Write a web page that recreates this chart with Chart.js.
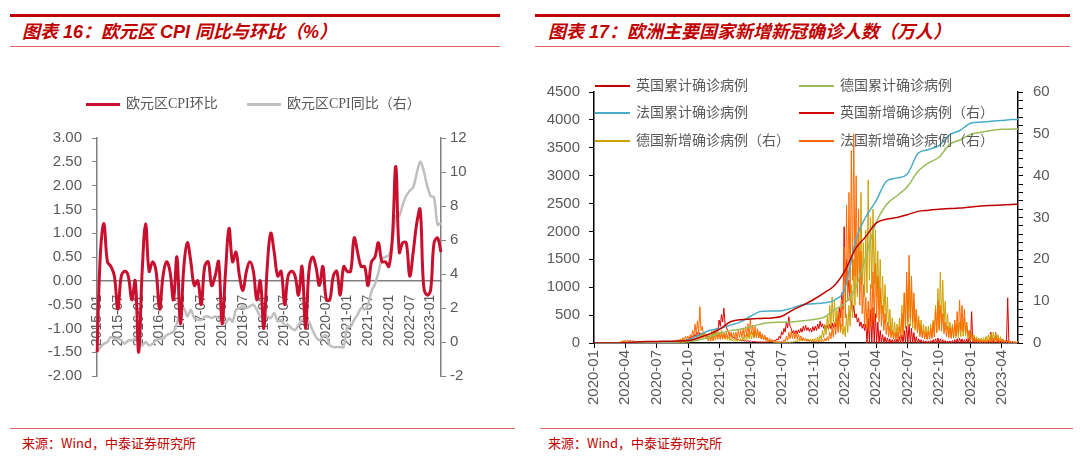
<!DOCTYPE html>
<html>
<head>
<meta charset="utf-8">
<script src="https://cdn.jsdelivr.net/npm/chart.js@4.4.0/dist/chart.umd.min.js"></script>
<style>
body{margin:0;width:1080px;height:465px;background:#fff;position:relative;overflow:hidden;font-family:"Noto Sans CJK SC",sans-serif}
.topline{position:absolute;top:14px;height:3px;background:#C00000}
.subline{position:absolute;top:46px;height:1px;background:#E06666}
.title{position:absolute;top:19px;font-size:18px;font-weight:bold;font-style:italic;color:#C00000;white-space:nowrap;font-family:"Liberation Sans","Noto Sans CJK SC",sans-serif;line-height:26px}
.botline{position:absolute;top:428px;height:1px;background:#E06666}
.src{position:absolute;top:434px;font-size:13px;color:#C00000;white-space:nowrap;font-family:"Liberation Sans Narrow","Noto Sans CJK SC",sans-serif;line-height:18px}
canvas{position:absolute}
.leg{position:absolute;font-size:14px;color:#595959;white-space:nowrap;font-family:"Liberation Serif","Noto Sans CJK SC",serif;line-height:18px}
.sw{position:absolute;height:3px}
</style>
</head>
<body>
<div class="topline" style="left:10px;width:490px"></div>
<div class="subline" style="left:10px;width:490px"></div>
<div class="title" style="left:22px">图表 16：欧元区 CPI 同比与环比（%）</div>
<div class="topline" style="left:535px;width:535px"></div>
<div class="subline" style="left:535px;width:535px"></div>
<div class="title" style="left:548px">图表 17：欧洲主要国家新增新冠确诊人数（万人）</div>

<canvas id="c1" width="510" height="360" style="left:0;top:60px"></canvas>
<canvas id="c2" width="555" height="360" style="left:520px;top:60px"></canvas>
<div id="legends"></div>

<div class="botline" style="left:10px;width:505px"></div>
<div class="botline" style="left:540px;width:533px"></div>
<div class="src" style="left:22px">来源：Wind，中泰证券研究所</div>
<div class="src" style="left:548px">来源：Wind，中泰证券研究所</div>

<script>
// ---- 图表16: 欧元区 CPI (2015-01 .. 2023-04, monthly) ----
var cpiStart = [2015, 1];
var cpiMom = [
  -1.5, 0.6, 1.2, 0.4, 0.3, 0.1, -0.6, 0.1, 0.2, 0.1, -0.4, 0.0,
  -1.5, 0.2, 1.2, 0.2, 0.4, 0.2, -0.6, 0.1, 0.4, 0.2, -0.4, 0.5,
  -0.9, 0.3, 0.8, 0.4, -0.1, 0.0, -0.5, 0.3, 0.4, -0.1, 0.1, 0.4,
  -0.9, 0.2, 1.1, 0.4, 0.6, 0.1, -0.2, 0.2, 0.4, 0.2, -0.4, 0.0,
  -1.0, 0.3, 1.0, 0.6, 0.1, 0.2, -0.5, 0.1, 0.2, 0.1, -0.3, 0.3,
  -1.0, 0.2, 0.5, 0.3, -0.1, 0.3, -0.4, -0.4, 0.1, 0.2, -0.3, 0.3,
  0.2, 0.2, 0.9, 0.6, 0.3, 0.3, -0.1, 0.4, 0.5, 0.8, 0.4, 0.4,
  0.3, 0.9, 2.4, 0.6, 0.8, 0.8, 0.1, 0.6, 1.2, 1.5, -0.1, -0.3,
  -0.2, 0.8, 0.9, 0.6
];
var cpiYoy = [
  -0.6, -0.3, -0.1, 0.0, 0.3, 0.2, 0.2, 0.1, -0.1, 0.1, 0.1, 0.2,
  0.3, -0.2, 0.0, -0.2, -0.1, 0.1, 0.2, 0.2, 0.4, 0.5, 0.6, 1.1,
  1.7, 2.0, 1.5, 1.9, 1.4, 1.3, 1.3, 1.5, 1.5, 1.4, 1.5, 1.4,
  1.3, 1.1, 1.4, 1.2, 1.9, 2.0, 2.1, 2.0, 2.1, 2.2, 1.9, 1.5,
  1.4, 1.5, 1.4, 1.7, 1.2, 1.3, 1.0, 1.0, 0.8, 0.7, 1.0, 1.3,
  1.4, 1.2, 0.7, 0.3, 0.1, 0.3, 0.4, -0.2, -0.3, -0.3, -0.3, -0.3,
  0.9, 0.9, 1.3, 1.6, 2.0, 1.9, 2.2, 3.0, 3.4, 4.1, 4.9, 5.0,
  5.1, 5.9, 7.4, 7.4, 8.1, 8.6, 8.9, 9.1, 9.9, 10.6, 10.1, 9.2,
  8.6, 8.5, 6.9, 7.0
];
var cpiLabels = [];
for (var k = 0; k < cpiMom.length; k++) {
  var mm = cpiStart[1] - 1 + k;
  var yy = cpiStart[0] + Math.floor(mm / 12);
  cpiLabels.push(yy + '-' + String(mm % 12 + 1).padStart(2, '0'));
}

// ---- 图表17: 新冠确诊 (万人) ----
// cumulative cases, first day of each month 2020-01 .. 2023-05, then last day
var cumLast = '2023-05-19';
var ukCum = [
  0, 0, 0, 3, 17, 26, 29, 31, 34, 45, 95, 160,
  250, 380, 415, 430, 440, 450, 480, 590, 680, 780, 900, 1030,
  1300, 1700, 1900, 2150, 2220, 2250, 2300, 2360, 2380, 2400, 2410, 2420,
  2440, 2455, 2465, 2475, 2485, 2490
];
var deCum = [
  0, 0, 0, 7, 16, 18, 19.5, 21, 24.5, 29.5, 53, 107,
  176, 222, 245, 287, 342, 369, 373, 377, 398, 423, 462, 601,
  715, 1000, 1520, 2160, 2480, 2640, 2800, 3080, 3230, 3330, 3560, 3640,
  3740, 3780, 3810, 3830, 3835, 3838
];
var frCum = [
  0, 0, 0, 5, 13, 15, 17, 19, 29, 60, 140, 223,
  262, 320, 375, 480, 567, 575, 580, 630, 690, 705, 722, 770,
  990, 1850, 2250, 2550, 2900, 2960, 3030, 3400, 3470, 3540, 3730, 3810,
  3940, 3960, 3975, 3990, 4005, 4010
];

// daily new cases read as weekly high / weekly low, weeks from 2020-01-29
var newStart = '2020-01-29';
var ukHi = [
  0, 0, 0, 0, 0, 0, 0.03, 0.1, 0.35, 0.55, 0.6, 0.55, 0.5,
  0.45, 0.35, 0.3, 0.22, 0.18, 0.14, 0.12, 0.09, 0.08, 0.07, 0.07, 0.08, 0.08,
  0.09, 0.1, 0.11, 0.13, 0.16, 0.25, 0.35, 0.45, 0.65, 0.8, 1.4, 1.7, 2.0,
  2.5, 2.5, 2.4, 2.0, 1.6, 1.7, 2.0, 2.7, 3.6, 5.5, 6.8, 8.3, 4.0,
  2.6, 2.0, 1.4, 1.2, 0.9, 0.7, 0.65, 0.6, 0.55, 0.5, 0.4, 0.35, 0.3,
  0.28, 0.25, 0.25, 0.3, 0.35, 0.5, 0.7, 1.0, 1.6, 2.7, 3.5, 5.0, 6.3,
  3.5, 3.0, 3.0, 3.2, 3.5, 4.0, 4.2, 3.7, 3.5, 3.9, 4.0, 4.5, 5.2,
  4.6, 4.2, 4.2, 4.5, 4.8, 5.0, 6.0, 8.5, 12, 27.8, 20, 15, 10,
  9, 7, 6, 5, 4.5, 4.5, 6, 8, 8.5, 7, 5, 3, 2, 1.5,
  1.2, 1.0, 0.8, 0.8, 1.0, 1.5, 2.0, 3.0, 4.0, 4.5, 3.5, 2.5, 1.5,
  1.0, 0.8, 0.6, 0.5, 0.5, 0.6, 0.8, 1.0, 1.2, 1.0, 0.8, 0.6, 0.5,
  0.5, 0.6, 0.8, 1.0, 1.2, 1.0, 0.8, 1.0, 1.5, 7.5, 1.2, 0.8, 0.6,
  0.6, 0.5, 0.5, 0.6, 2.6, 0.7, 2.5, 0.6, 0.5, 0.4, 0.3, 10.8, 0.3,
  0.2, 0.2, 0.1
];
var ukLo = [
  0, 0, 0, 0, 0, 0, 0.01, 0.05, 0.2, 0.35, 0.4, 0.35, 0.3,
  0.3, 0.25, 0.2, 0.15, 0.12, 0.1, 0.08, 0.06, 0.05, 0.05, 0.05, 0.06, 0.06,
  0.07, 0.08, 0.08, 0.1, 0.12, 0.18, 0.25, 0.3, 0.45, 0.6, 1.0, 1.3, 1.5,
  1.8, 1.8, 1.8, 1.5, 1.2, 1.3, 1.5, 2.0, 2.8, 4.0, 5.0, 4.5, 3.0,
  1.8, 1.4, 1.0, 0.8, 0.6, 0.5, 0.45, 0.4, 0.4, 0.25, 0.25, 0.2, 0.2,
  0.18, 0.18, 0.18, 0.2, 0.25, 0.35, 0.5, 0.7, 1.1, 2.0, 2.6, 3.6, 4.0,
  2.4, 2.2, 2.2, 2.4, 2.6, 3.0, 3.0, 2.8, 2.6, 2.9, 3.0, 3.4, 3.8,
  3.5, 3.2, 3.2, 3.4, 3.6, 3.8, 4.5, 6.0, 8.0, 12, 12, 10, 7,
  6, 5, 4, 3.5, 3, 0, 0, 0, 0, 0, 0, 0, 0, 0,
  0, 0, 0, 0, 0, 0, 0, 0, 0, 0, 0, 0, 0,
  0, 0, 0, 0, 0, 0, 0, 0, 0, 0, 0, 0, 0,
  0, 0, 0, 0, 0, 0, 0, 0, 0, 0, 0, 0, 0,
  0, 0, 0, 0, 0, 0, 0, 0, 0, 0, 0, 0, 0,
  0, 0, 0
];
var deHi = [
  0, 0, 0, 0, 0, 0.01, 0.1, 0.4, 0.6, 0.65, 0.5, 0.35, 0.25,
  0.15, 0.12, 0.08, 0.07, 0.05, 0.05, 0.06, 0.05, 0.05, 0.05, 0.05, 0.06, 0.08,
  0.1, 0.12, 0.15, 0.16, 0.15, 0.15, 0.15, 0.2, 0.22, 0.28, 0.45, 0.75, 1.2,
  1.9, 2.2, 2.4, 2.3, 2.2, 2.3, 2.9, 3.2, 3.3, 2.5, 3.1, 2.2, 1.7,
  1.4, 1.1, 0.9, 0.9, 1.0, 1.1, 1.4, 1.8, 2.3, 2.5, 2.6, 2.9, 2.7,
  2.4, 1.9, 1.5, 1.0, 0.6, 0.4, 0.2, 0.12, 0.09, 0.08, 0.1, 0.16, 0.25,
  0.3, 0.45, 0.6, 0.9, 1.0, 1.2, 1.1, 1.0, 0.9, 1.0, 1.1, 1.4, 1.8,
  3.0, 4.5, 6.5, 9.0, 11, 10, 8, 6, 4.5, 4, 7, 9, 14,
  20, 25, 28, 36, 24, 27, 39, 30, 32, 27, 22, 20, 16, 14,
  11, 8, 6, 5, 4.5, 6, 9, 12, 14, 15, 13, 10, 8,
  6.5, 5.5, 4.5, 4, 4, 4.5, 5.5, 9, 13, 17, 15, 10, 7,
  5, 4.5, 4.5, 4.5, 5, 5.5, 6, 4, 3, 2.5, 2, 1.5, 1.2,
  1.2, 1.3, 1.6, 2.0, 2.2, 2.6, 2.3, 2.0, 1.5, 1.0, 0.6, 0.5, 0.4,
  0.3, 0.3, 0.2
];
var deLo = [
  0, 0, 0, 0, 0, 0, 0.05, 0.2, 0.3, 0.3, 0.25, 0.15, 0.1,
  0.07, 0.05, 0.04, 0.03, 0.02, 0.02, 0.03, 0.02, 0.02, 0.02, 0.02, 0.03, 0.04,
  0.05, 0.06, 0.07, 0.08, 0.07, 0.07, 0.07, 0.09, 0.1, 0.12, 0.2, 0.35, 0.5,
  0.8, 1.0, 1.1, 1.0, 1.0, 1.0, 1.3, 1.5, 1.5, 1.0, 1.2, 0.9, 0.7,
  0.6, 0.5, 0.4, 0.4, 0.45, 0.5, 0.6, 0.8, 1.0, 1.0, 1.1, 1.3, 1.2,
  1.0, 0.8, 0.6, 0.4, 0.25, 0.15, 0.08, 0.05, 0.04, 0.04, 0.05, 0.07, 0.1,
  0.13, 0.2, 0.25, 0.4, 0.45, 0.5, 0.5, 0.45, 0.4, 0.45, 0.5, 0.6, 0.8,
  1.3, 2.0, 3.0, 4.0, 5.0, 4.5, 3.5, 2.5, 2.0, 1.5, 2.5, 4, 6,
  9, 11, 12, 14, 11, 12, 15, 13, 14, 11, 9, 7, 6, 5,
  3, 2, 1.5, 1.2, 1, 1.5, 2.5, 3.5, 4, 4, 3.5, 3, 2.5,
  2, 1.5, 1.2, 1, 1, 1.2, 1.5, 2.5, 3.5, 4.5, 4, 3, 2,
  1.5, 1.3, 1.3, 1.3, 1.5, 1.6, 1.8, 1.0, 0.6, 0.6, 0.5, 0.4, 0.3,
  0.3, 0.3, 0.4, 0.5, 0.5, 0.6, 0.5, 0.5, 0.4, 0.2, 0.1, 0.1, 0.1,
  0.05, 0.05, 0.05
];
var frHi = [
  0, 0, 0, 0, 0, 0.02, 0.1, 0.3, 0.5, 0.7, 0.5, 0.45, 0.3,
  0.2, 0.15, 0.1, 0.08, 0.06, 0.05, 0.05, 0.05, 0.06, 0.06, 0.08, 0.1, 0.13,
  0.18, 0.25, 0.35, 0.5, 0.65, 0.85, 1.0, 1.3, 1.6, 1.7, 2.0, 3.0, 4.5,
  5.3, 8.7, 4.0, 2.6, 1.6, 1.4, 1.5, 1.8, 2.2, 2.6, 2.3, 2.4, 2.6,
  2.7, 2.6, 2.5, 2.6, 3.1, 3.0, 3.3, 3.9, 4.6, 5.6, 4.3, 4.0, 3.4,
  2.8, 2.2, 1.9, 1.4, 1.1, 0.9, 0.6, 0.45, 0.35, 0.45, 0.8, 1.6, 2.5,
  2.8, 2.7, 2.5, 2.2, 1.7, 1.3, 1.0, 0.8, 0.6, 0.55, 0.5, 0.6, 0.7,
  0.9, 1.1, 1.5, 2.6, 3.6, 5.0, 6.0, 7.2, 10.5, 23, 33, 36, 46,
  50, 40, 32, 22, 14, 11, 10, 14, 17, 19, 16, 13, 9, 7,
  5, 4, 3, 2.5, 2.6, 4, 7, 12, 17, 21, 16, 12, 8,
  5.5, 4, 3, 2.5, 2.8, 3.5, 5, 8, 10, 9, 7, 5, 4,
  3.6, 4, 5.5, 7.5, 10.3, 9, 8, 5, 3, 2, 1.4, 1, 0.8,
  0.7, 0.6, 0.6, 0.8, 1.0, 1.2, 1.3, 1.2, 1.0, 0.8, 0.7, 0.6, 0.5,
  0.5, 0.4, 0.3
];
var frLo = [
  0, 0, 0, 0, 0, 0, 0.05, 0.15, 0.25, 0.35, 0.25, 0.2, 0.15,
  0.08, 0.05, 0.03, 0.02, 0.02, 0.01, 0.02, 0.02, 0.03, 0.03, 0.04, 0.05, 0.06,
  0.08, 0.1, 0.15, 0.2, 0.3, 0.4, 0.5, 0.6, 0.8, 0.9, 1.0, 1.4, 2.0,
  2.4, 3.0, 2.0, 1.0, 0.5, 0.4, 0.5, 0.7, 0.9, 0.8, 0.9, 1.1, 1.2,
  1.2, 1.1, 1.0, 1.1, 1.3, 1.3, 1.4, 1.6, 1.8, 2.2, 1.5, 1.4, 1.2,
  1.0, 0.7, 0.6, 0.4, 0.3, 0.3, 0.2, 0.15, 0.1, 0.15, 0.3, 0.6, 1.0,
  1.1, 1.0, 0.9, 0.8, 0.6, 0.5, 0.4, 0.3, 0.25, 0.2, 0.2, 0.25, 0.3,
  0.35, 0.45, 0.6, 1.0, 1.4, 2.0, 2.5, 3.0, 4.0, 6, 10, 12, 15,
  16, 12, 9, 7, 4, 3.5, 3, 4, 5, 6, 5, 4, 3, 2,
  1.5, 1.2, 1.0, 0.8, 0.8, 1.2, 2.0, 3.5, 5, 6, 5, 3.5, 2.5,
  1.5, 1.2, 1.0, 0.8, 0.9, 1.1, 1.5, 2.5, 3, 2.8, 2.2, 1.5, 1.2,
  1.1, 1.2, 1.7, 2.3, 3, 2.8, 2.4, 1.5, 0.5, 0.3, 0.2, 0.15, 0.1,
  0.1, 0.1, 0.1, 0.1, 0.15, 0.15, 0.2, 0.15, 0.1, 0.1, 0.1, 0.05, 0.05,
  0.05, 0.05, 0.03
];

var DAY0 = Date.UTC(2020, 0, 1);
function dayOf(str) {
  var p = str.split('-');
  return (Date.UTC(+p[0], +p[1] - 1, +p[2]) - DAY0) / 864e5;
}
function monthDay(i) {
  return (Date.UTC(2020, i, 1) - DAY0) / 864e5;
}
function cumPoints(arr) {
  var pts = [];
  for (var i = 0; i < arr.length - 1; i++) pts.push({ x: monthDay(i), y: arr[i] });
  pts.push({ x: dayOf(cumLast), y: arr[arr.length - 1] });
  return pts;
}
function newPoints(hi, lo) {
  var s = dayOf(newStart), pts = [];
  for (var i = 0; i < hi.length; i++) {
    pts.push({ x: s + 7 * i, y: hi[i] });
    pts.push({ x: s + 7 * i + 3.5, y: lo[i] || 0 });
  }
  return pts;
}
var quarterTicks = [];
for (var q = 0; monthDay(q) <= dayOf(cumLast); q += 3) quarterTicks.push(monthDay(q));

var GREY = '#595959';
var numFont = { family: 'Liberation Sans', size: 15 };

// ---------- chart 16 ----------
new Chart(document.getElementById('c1'), {
  type: 'line',
  data: {
    labels: cpiLabels,
    datasets: [
      { label: '欧元区CPI环比', data: cpiMom, yAxisID: 'y', borderColor: '#C8102E', borderWidth: 3, tension: 0.4, pointRadius: 0 },
      { label: '欧元区CPI同比（右）', data: cpiYoy, yAxisID: 'y1', borderColor: '#BFBFBF', borderWidth: 2.5, tension: 0.3, pointRadius: 0 }
    ]
  },
  options: {
    responsive: false,
    animation: false,
    layout: { padding: { top: 78, bottom: 44, left: 0, right: 0 } },
    plugins: { legend: { display: false }, tooltip: { enabled: false } },
    scales: {
      x: {
        position: { y: 0 },
        offset: false,
        grid: { display: false },
        border: { color: '#808080', width: 1.5 },
        ticks: {
          autoSkip: false, minRotation: 90, maxRotation: 90, padding: 6,
          color: GREY, font: { family: 'Liberation Sans', size: 14 },
          callback: function (v, i) { return i % 6 === 0 ? cpiLabels[i] : ''; }
        }
      },
      y: {
        min: -2, max: 3,
        grid: { drawOnChartArea: false, color: '#808080', tickLength: 5 },
        border: { color: '#808080', width: 1.5 },
        ticks: { stepSize: 0.5, padding: 10, color: GREY, font: numFont, callback: function (v) { return v.toFixed(2); } },
        afterFit: function (s) { s.width = 97; }
      },
      y1: {
        position: 'right',
        min: -2, max: 12,
        grid: { drawOnChartArea: false, color: '#808080', tickLength: 5 },
        border: { color: '#808080', width: 1.5 },
        ticks: { stepSize: 2, padding: 4, color: GREY, font: numFont },
        afterFit: function (s) { s.width = 510 - 441; }
      }
    }
  }
});

// ---------- chart 17 ----------
var series17 = [
  { label: '英国累计确诊病例', data: cumPoints(ukCum), yAxisID: 'y', borderColor: '#C00000', borderWidth: 1.5, order: 0 },
  { label: '德国累计确诊病例', data: cumPoints(deCum), yAxisID: 'y', borderColor: '#9BBB59', borderWidth: 1.5, order: 0 },
  { label: '法国累计确诊病例', data: cumPoints(frCum), yAxisID: 'y', borderColor: '#4BACC6', borderWidth: 1.5, order: 0 },
  { label: '英国新增确诊病例（右）', data: newPoints(ukHi, ukLo), yAxisID: 'y1', borderColor: '#D90000', borderWidth: 1, order: 3 },
  { label: '德国新增确诊病例（右）', data: newPoints(deHi, deLo), yAxisID: 'y1', borderColor: '#CDA000', borderWidth: 1, order: 2 },
  { label: '法国新增确诊病例（右）', data: newPoints(frHi, frLo), yAxisID: 'y1', borderColor: '#FF6A00', borderWidth: 1, order: 1 }
];
series17.forEach(function (d, i) {
  d.pointRadius = 0;
  d.tension = 0;
  if (i < 3) d.cubicInterpolationMode = 'monotone';
});

new Chart(document.getElementById('c2'), {
  type: 'line',
  data: { datasets: series17 },
  options: {
    responsive: false,
    animation: false,
    layout: { padding: { top: 32, bottom: 0, left: 0, right: 0 } },
    plugins: { legend: { display: false }, tooltip: { enabled: false } },
    scales: {
      x: {
        type: 'linear',
        min: 0, max: dayOf(cumLast),
        grid: { drawOnChartArea: false, color: '#000', tickLength: 5 },
        border: { color: '#000', width: 1.5 },
        afterBuildTicks: function (s) { s.ticks = quarterTicks.map(function (v) { return { value: v }; }); },
        ticks: {
          autoSkip: false, minRotation: 90, maxRotation: 90, padding: 2,
          color: GREY, font: { family: 'Liberation Sans', size: 15 },
          callback: function (v) {
            var d = new Date(DAY0 + v * 864e5);
            return d.getUTCFullYear() + '-' + String(d.getUTCMonth() + 1).padStart(2, '0');
          }
        },
        afterFit: function (s) { s.height = 77; }
      },
      y: {
        min: 0, max: 4500,
        grid: { drawOnChartArea: false, color: '#000', tickLength: 5 },
        border: { color: '#000', width: 1.5 },
        ticks: { stepSize: 500, padding: 9, color: GREY, font: numFont, callback: function (v) { return String(v); } },
        afterFit: function (s) { s.width = 74; }
      },
      y1: {
        position: 'right',
        min: 0, max: 60,
        grid: { drawOnChartArea: false, color: '#000', tickLength: 5 },
        border: { color: '#000', width: 1.5 },
        ticks: {
          stepSize: 2, autoSkip: false, padding: 10, color: GREY, font: numFont,
          callback: function (v) { return v % 10 === 0 ? String(v) : ''; }
        },
        afterFit: function (s) { s.width = 57; }
      }
    }
  }
});

// ---------- legends (overlaid like the original) ----------
var legendSpots = [
  { text: '欧元区CPI环比', color: '#C8102E', x: 86, y: 104, w: 34, t: 3 },
  { text: '欧元区CPI同比（右）', color: '#BFBFBF', x: 247, y: 104, w: 34, t: 3 }
];
var col = [595, 799], row = [86, 113, 141];
series17.forEach(function (d, i) {
  legendSpots.push({ text: d.label, color: d.borderColor, x: col[i % 2], y: row[Math.floor(i / 2)], w: 35, t: 2 });
});
var box = document.getElementById('legends');
legendSpots.forEach(function (l) {
  var sw = document.createElement('div');
  sw.className = 'sw';
  sw.style.cssText = 'left:' + l.x + 'px;top:' + (l.y - l.t / 2) + 'px;width:' + l.w + 'px;height:' + l.t + 'px;background:' + l.color;
  box.appendChild(sw);
  var tx = document.createElement('div');
  tx.className = 'leg';
  tx.textContent = l.text;
  tx.style.left = (l.x + l.w + 6) + 'px';
  tx.style.top = (l.y - 9) + 'px';
  box.appendChild(tx);
});
</script>
</body>
</html>
